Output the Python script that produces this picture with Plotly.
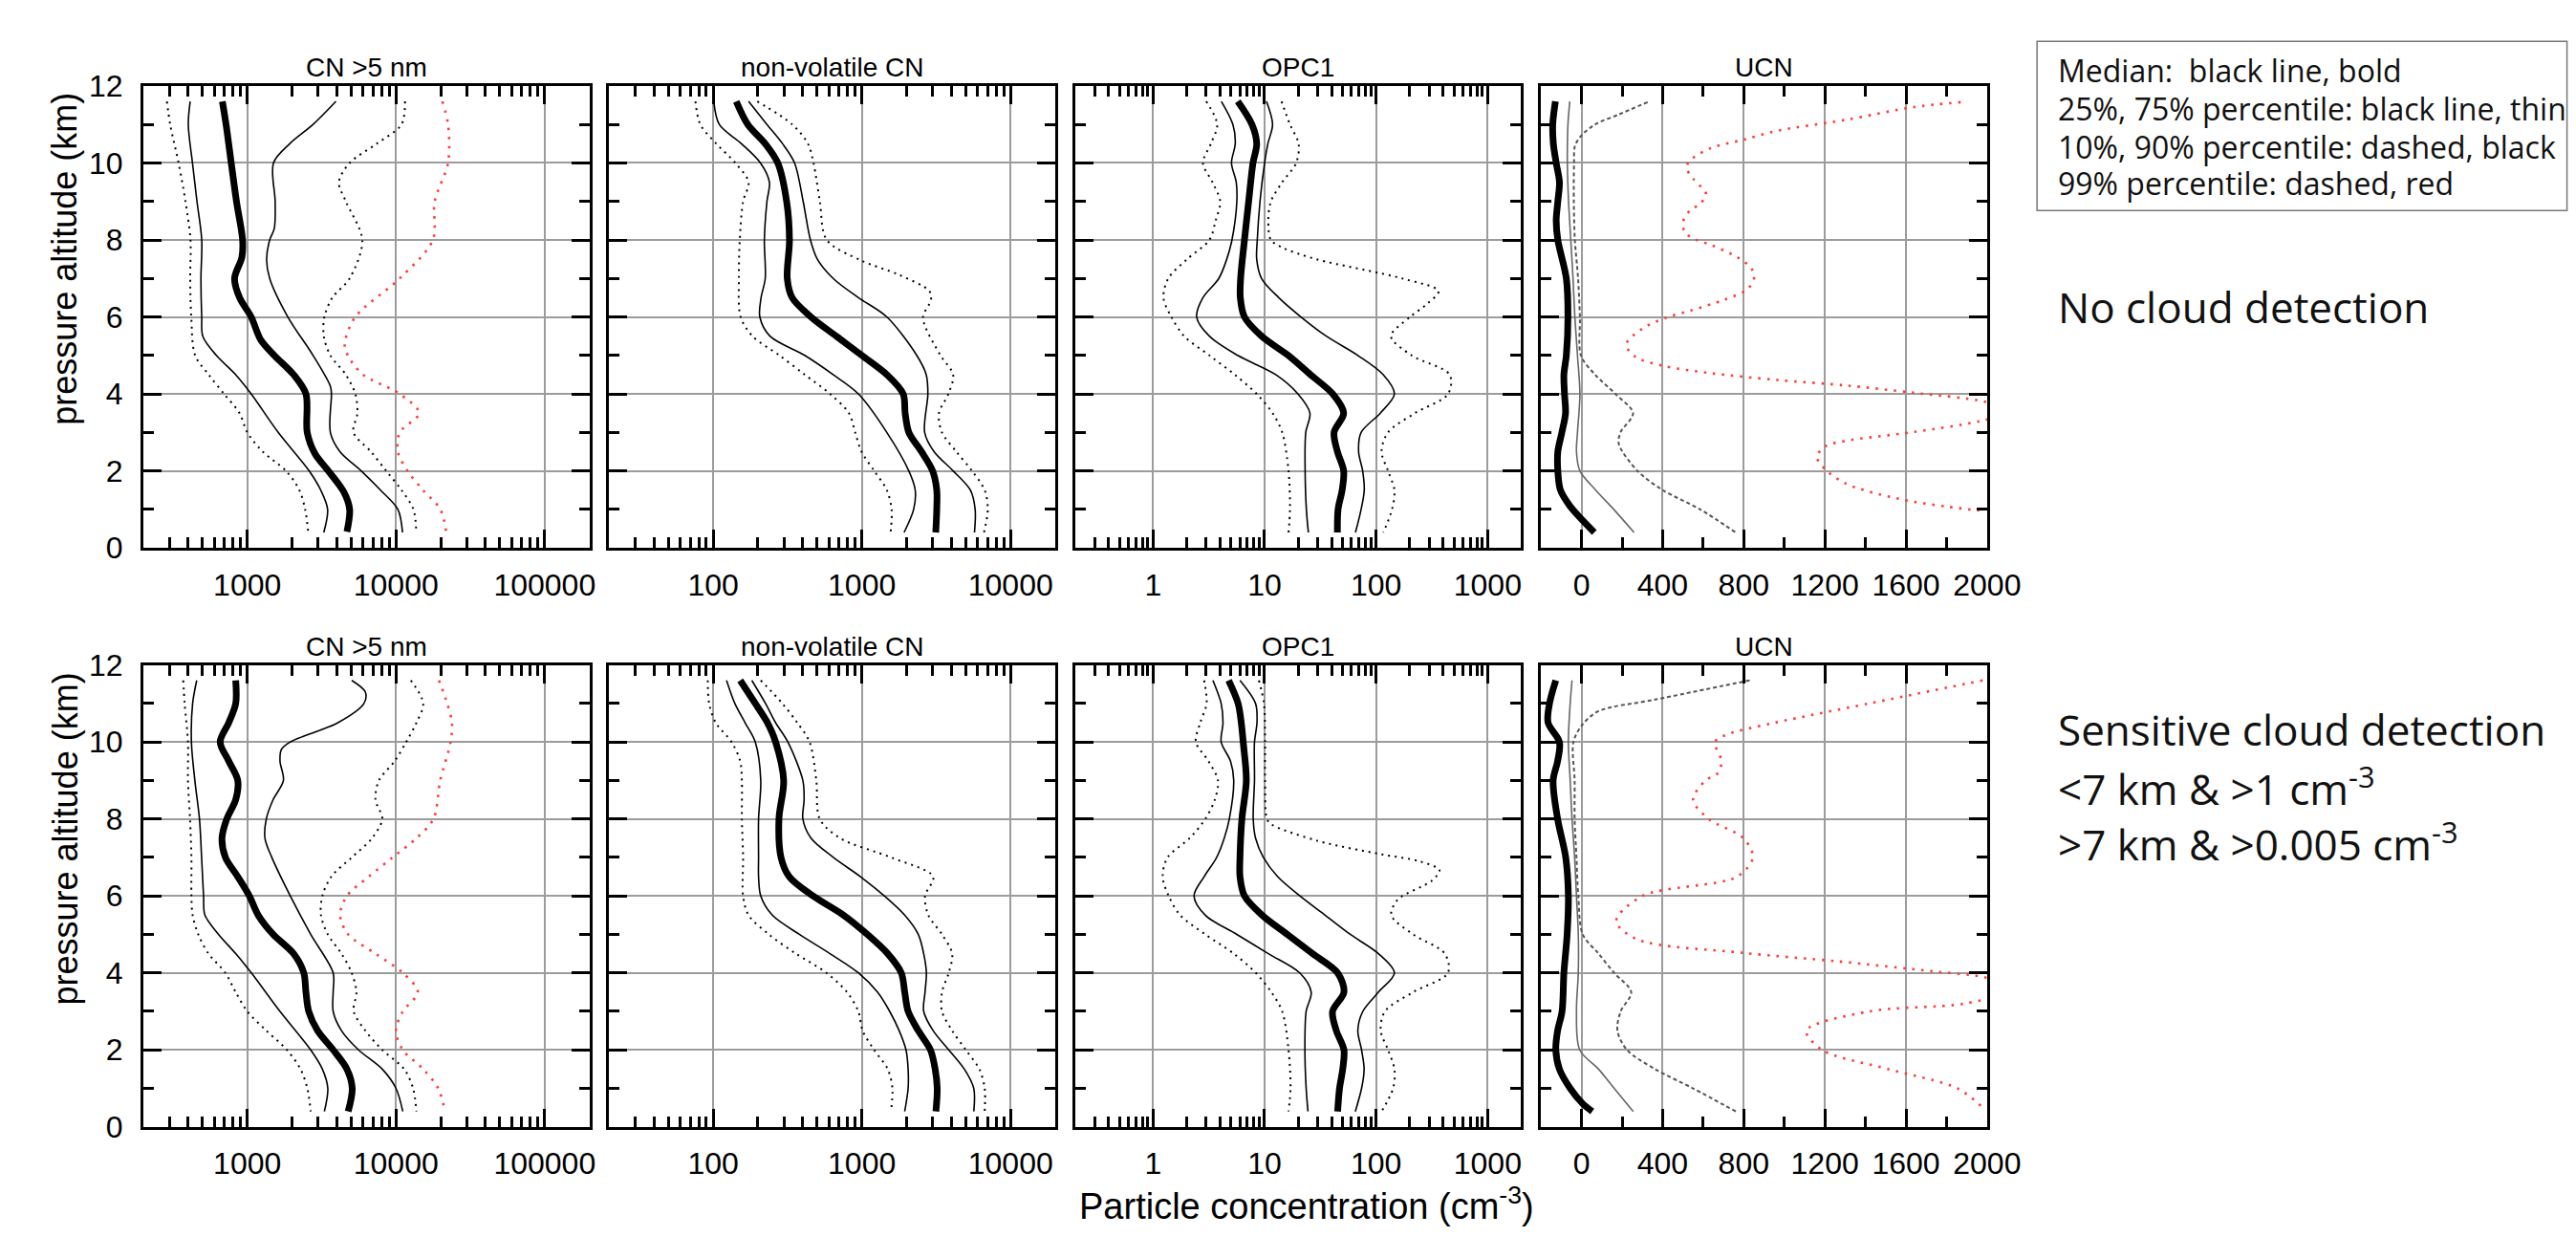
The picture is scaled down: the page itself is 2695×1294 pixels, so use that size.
import math
import plotly.graph_objects as go

W, H = 2695, 1294

# ---------------- data: (pressure altitude km, concentration cm-3) ----------------
# Top row: no cloud detection
t_cn5_p50 = [(11.6, 680), (11, 720), (10, 780), (9, 846), (8, 930), (7.55, 920), (7, 821), (6.5, 888), (6, 1062), (5.4, 1233), (5, 1520), (4.5, 2050), (4, 2480), (3, 2530), (2.45, 2850), (2, 3510), (1.45, 4460), (1, 4880), (0.42, 4680)]
t_cn5_p25 = [(11.6, 413), (11, 401), (10, 428), (9, 459), (8, 494), (7, 488), (6, 494), (5.5, 502), (5, 620), (4.5, 836), (4, 1062), (3, 1614), (2, 2606), (1.5, 3120), (1, 3470), (0.4, 3270)]
t_cn5_p75 = [(11.6, 3950), (11, 2770), (10.5, 1930), (10, 1500), (9, 1540), (8.3, 1520), (8, 1415), (7.5, 1349), (7, 1415), (6, 1874), (5, 2770), (4.2, 3620), (4, 3680), (3, 3620), (2.5, 4200), (2, 5840), (1.5, 7870), (1, 10300), (0.4, 11070)]
t_cn5_p10 = [(11.6, 288), (11, 303), (10, 345), (9, 384), (8, 415), (7, 413), (6, 420), (5, 446), (4.5, 550), (4, 698), (3.5, 887), (3, 1000), (2.5, 1270), (2, 1820), (1.5, 2240), (1, 2450), (0.4, 2570)]
t_cn5_p90 = [(11.6, 11500), (11, 10900), (10.5, 7420), (10, 4880), (9.5, 4130), (9, 4600), (8, 5940), (7, 4880), (6.5, 3730), (6, 3300), (5.5, 3270), (5, 3620), (4.5, 4600), (4, 5330), (3.5, 5500), (3, 5180), (2.5, 6780), (2, 8600), (1.5, 10900), (1, 13100), (0.4, 13700)]
t_cn5_p99 = [(11.6, 20500), (11, 22400), (10, 22400), (9, 18200), (8, 17700), (7, 10600), (6, 5330), (5.3, 4520), (5, 4740), (4.5, 6010), (4, 10600), (3.5, 14300), (3, 10600), (2.5, 10300), (2, 11970), (1.5, 15200), (1, 19900), (0.4, 21800)]

t_nv_p50 = [(11.6, 143), (11, 171), (10.5, 224), (10, 272), (9, 312), (8, 326), (7, 315), (6.5, 340), (6, 455), (5.5, 673), (5, 1000), (4.5, 1473), (4, 1897), (3.5, 1955), (3, 2070), (2.5, 2517), (2, 2990), (1.5, 3190), (1, 3190), (0.4, 3140)]
t_nv_p25 = [(11.6, 101), (11, 110), (10.5, 155), (10, 208), (9.5, 239), (9, 230), (8, 221), (7, 224), (6.5, 210), (6, 206), (5.5, 241), (5, 413), (4.5, 641), (4, 948), (3, 1472), (2, 2070), (1.5, 2285), (1, 2230), (0.4, 1923)]
t_nv_p75 = [(11.6, 173), (11, 230), (10.5, 293), (10, 353), (9, 403), (8, 451), (7.5, 502), (7, 641), (6.5, 948), (6, 1472), (5, 2340), (4.5, 2710), (4, 2780), (3, 2645), (2.5, 3060), (2, 4110), (1.5, 5370), (1, 5780), (0.4, 5720)]
t_nv_p10 = [(11.6, 76), (11, 82), (10.5, 105), (10, 141), (9.5, 173), (9, 159), (8, 151), (7, 149), (6, 153), (5.5, 184), (5, 279), (4.5, 413), (4, 611), (3.5, 819), (3, 902), (2.5, 995), (2, 1211), (1.5, 1472), (1, 1585), (0.4, 1560)]
t_nv_p90 = [(11.6, 198), (11, 340), (10.5, 434), (10, 473), (9, 522), (8, 581), (7.46, 1000), (7.09, 1790), (6.67, 2845), (6.44, 2917), (5.98, 2580), (5, 3380), (4.5, 4110), (4, 3820), (3.5, 3300), (3, 3460), (2.5, 4320), (2, 5510), (1.5, 6700), (1, 7030), (0.4, 6630)]

t_opc_p50 = [(11.6, 5.75), (11, 7.7), (10.5, 8.5), (10, 7.87), (9, 7.2), (8, 6.6), (7, 6.1), (6.5, 6.06), (6, 6.6), (5.5, 9.4), (5, 16.3), (4.5, 25.8), (4, 40.8), (3.5, 51.2), (3, 42), (2.5, 45), (2, 51.2), (1.5, 49.6), (1, 45.6), (0.4, 45)]
t_opc_p25 = [(11.6, 4.1), (11, 5.2), (10.5, 5.46), (10, 5.05), (9.5, 5.57), (9, 5.64), (8, 5.1), (7.5, 4.58), (7, 3.89), (6.5, 2.8), (6, 2.46), (5.5, 3.2), (5, 5.75), (4.5, 12.6), (4, 19.9), (3.5, 25.5), (3, 23.4), (2, 23.1), (1, 23.7), (0.4, 24.7)]
t_opc_p75 = [(11.6, 10.4), (11, 11.8), (10.5, 10.7), (10, 10.0), (9, 9.1), (8, 8.6), (7.5, 8.5), (7, 9.4), (6.5, 13.4), (6, 21.2), (5.5, 35.8), (5, 68.7), (4.5, 116), (4, 146), (3.5, 109), (3, 73.4), (2.5, 69.7), (2, 75.8), (1.5, 78.3), (1, 73.4), (0.4, 65.3)]
t_opc_p10 = [(11.6, 3.0), (11, 3.76), (10.5, 3.3), (10, 2.8), (9.5, 3.41), (9, 4.0), (8.5, 3.64), (8, 3.2), (7.5, 2.02), (7, 1.37), (6.5, 1.24), (6, 1.46), (5.5, 1.9), (5, 3.2), (4.5, 5.4), (4, 8.5), (3.5, 11.8), (3, 14.4), (2, 16.4), (1, 16.9), (0.4, 16.4)]
t_opc_p90 = [(11.6, 14.2), (11, 16.9), (10.5, 20.2), (10, 19.2), (9.5, 14.4), (9, 11.4), (8.5, 10.8), (8, 11.4), (7.8, 14.5), (7.5, 29), (7, 171), (6.67, 363), (6.35, 290), (6, 202), (5.5, 136), (5, 208), (4.5, 457), (4, 442), (3.5, 223), (3, 128), (2.5, 112), (2, 128), (1.5, 146), (1, 139), (0.4, 116)]

t_ucn_p50 = [(11.6, -129), (11, -142), (10.5, -139), (10, -125), (9.5, -109), (9, -117), (8.5, -125), (8, -117), (7, -75), (6, -67), (5, -75), (4.5, -87), (4, -84), (3.5, -79), (3, -97), (2.5, -117), (2, -117), (1.5, -104), (1.1, -59), (0.7, 8), (0.4, 63)]
t_ucn_p75 = [(11.6, -58), (11, -67), (10, -70), (9, -64), (8, -53), (7, -42), (6, -33), (5, -20), (4, -8), (3, -20), (2.5, -25), (2, -8), (1.5, 70), (1, 159), (0.4, 259)]
t_ucn_p90 = [(11.58, 326), (11.26, 184), (11, 67), (10.7, -3), (10.43, -33), (10, -37), (9, -38), (8, -33), (7, -17), (6, -8), (5, -3), (4.5, 67), (4, 167), (3.5, 254), (3, 192), (2.7, 184), (2, 276), (1.5, 401), (1, 585), (0.4, 760)]
t_ucn_p99 = [(11.58, 1870), (11.45, 1637), (11.12, 1303), (10.84, 969), (10.61, 802), (10.38, 635), (10.06, 534), (9.87, 518), (9.59, 551), (9.31, 601), (9.18, 615), (8.94, 585), (8.76, 534), (8.48, 501), (8.2, 509), (8.02, 559), (7.88, 635), (7.55, 768), (7.28, 835), (7.04, 852), (6.72, 818), (6.44, 701), (6.16, 534), (5.98, 418), (5.7, 301), (5.28, 220), (4.96, 267), (4.73, 401), (4.54, 635), (4.36, 969), (4.22, 1303), (4.03, 1637), (3.8, 1987), (3.55, 2120), (3.29, 1962), (3.01, 1637), (2.78, 1303), (2.64, 1202), (2.36, 1161), (2.04, 1202), (1.67, 1303), (1.39, 1470), (1.2, 1637), (1.07, 1804), (0.97, 1962)]

# Bottom row: sensitive cloud detection
b_cn5_p50 = [(11.6, 836), (11, 836), (10.5, 751), (10, 657), (9.5, 751), (9, 863), (8.5, 836), (8, 728), (7.5, 676), (7, 713), (6.5, 863), (6, 1032), (5.5, 1184), (5, 1492), (4.5, 2050), (4, 2400), (3.5, 2480), (3, 2590), (2.5, 2970), (2, 3780), (1.5, 4680), (1, 5080), (0.4, 4770)]
b_cn5_p25 = [(11.6, 457), (11, 429), (10, 421), (9, 444), (8, 477), (7, 493), (6, 508), (5.5, 519), (5, 641), (4.5, 836), (4, 1066), (3, 1660), (2, 2670), (1.5, 3200), (1, 3480), (0.4, 3300)]
b_cn5_p75 = [(11.6, 5040), (11.3, 6220), (11, 6090), (10.5, 4070), (10, 1945), (9.8, 1695), (9.5, 1660), (9, 1750), (8.5, 1492), (8, 1343), (7.5, 1315), (7, 1462), (6, 1945), (5, 2670), (4, 3780), (3.5, 3780), (3, 3780), (2.5, 4300), (2, 5600), (1.5, 8090), (1, 10000), (0.4, 11120)]
b_cn5_p10 = [(11.6, 371), (11, 379), (10, 399), (9, 399), (8, 412), (7, 421), (6, 421), (5.5, 429), (5, 468), (4.5, 548), (4, 713), (3.5, 836), (3, 1000), (2.5, 1343), (2, 1845), (1.5, 2280), (1, 2535), (0.4, 2670)]
b_cn5_p90 = [(11.6, 12600), (11, 15250), (10.5, 13730), (10, 11720), (9.5, 9800), (9, 7680), (8.5, 7280), (8, 8090), (7.5, 6900), (7, 5040), (6.5, 3670), (6, 3200), (5.5, 3130), (5, 3480), (4.5, 4300), (4, 5040), (3.5, 5420), (3, 5200), (2.5, 6220), (2, 8090), (1.5, 11350), (1, 13030), (0.4, 13730)]
b_cn5_p99 = [(11.6, 19450), (11, 22100), (10.5, 23800), (10, 23300), (9, 19850), (8, 17870), (7.5, 13730), (7, 9490), (6.5, 6560), (6, 4680), (5.5, 4210), (5, 4770), (4.5, 7280), (4, 11120), (3.5, 14030), (3, 11120), (2.5, 10000), (2, 11120), (1.5, 15250), (1, 19230), (0.4, 21380)]

b_nv_p50 = [(11.6, 152), (11, 192), (10.5, 232), (10, 263), (9, 298), (8, 277), (7, 286), (6.5, 325), (6, 469), (5.5, 753), (5, 1088), (4.5, 1493), (4, 1842), (3.5, 1942), (3, 2047), (2.5, 2395), (2, 2893), (1.5, 3111), (1, 3213), (0.4, 3148)]
b_nv_p25 = [(11.6, 123), (11, 140), (10.5, 164), (10, 192), (9, 209), (8, 202), (7, 202), (6.5, 202), (6, 209), (5.5, 250), (5, 380), (4.5, 610), (4, 948), (3.5, 1274), (3, 1539), (2.5, 1782), (2, 1981), (1.5, 2047), (1, 2047), (0.4, 1942)]
b_nv_p75 = [(11.6, 182), (11, 225), (10.5, 263), (10, 318), (9, 401), (8.5, 409), (8, 401), (7.5, 455), (7, 643), (6.5, 979), (6, 1416), (5.5, 1942), (5, 2395), (4.5, 2605), (4, 2717), (3.5, 2660), (3, 2605), (2.5, 3016), (2, 3840), (1.5, 4890), (1, 5660), (0.4, 5660)]
b_nv_p10 = [(11.6, 92), (11, 94), (10.5, 104), (10, 133), (9.5, 152), (9, 156), (8, 156), (7, 159), (6, 159), (5.5, 173), (5, 237), (4.5, 360), (4, 579), (3.5, 794), (3, 948), (2.5, 1011), (2, 1209), (1.5, 1493), (1, 1605), (0.4, 1570)]
b_nv_p90 = [(11.6, 209), (11, 292), (10.5, 368), (10, 445), (9, 494), (8, 521), (7.5, 714), (7, 1570), (6.5, 3016), (6, 2660), (5.5, 2800), (5, 3460), (4.5, 4050), (4, 3840), (3.5, 3460), (3, 3460), (2.5, 4050), (2, 5000), (1.5, 6170), (1, 6700), (0.4, 6700)]

b_opc_p50 = [(11.6, 4.76), (11, 5.79), (10.5, 6.18), (10, 6.43), (9, 6.86), (8, 6.26), (7, 6.02), (6.5, 6.02), (6, 6.6), (5.5, 9.5), (5, 16), (4.5, 26.9), (4, 45.2), (3.5, 51.5), (3, 40.7), (2.5, 44), (2, 51.5), (1.5, 50.2), (1, 47), (0.4, 45.2)]
b_opc_p25 = [(11.6, 3.44), (11, 4.08), (10.5, 4.24), (10, 4.08), (9.5, 4.95), (9, 5.29), (8, 4.83), (7.5, 4.35), (7, 3.72), (6.5, 2.87), (6, 2.33), (5.5, 2.94), (5, 5.64), (4.5, 10.8), (4, 20.7), (3.5, 26.2), (3, 23.6), (2, 23), (1, 23.6), (0.4, 24.5)]
b_opc_p75 = [(11.6, 6.02), (11, 8.3), (10.5, 8.55), (10, 8.12), (9, 8.12), (8, 7.91), (7.5, 8.3), (7, 9.75), (6.5, 13.1), (6, 20.7), (5.5, 34.9), (5, 58.7), (4.5, 105), (4, 146), (3.5, 105), (3, 76), (2.5, 68.6), (2, 74.1), (1.5, 78.1), (1, 74.1), (0.4, 65.1)]
b_opc_p10 = [(11.6, 2.87), (11, 3.02), (10.5, 2.65), (10, 2.42), (9.5, 3.14), (9, 3.82), (8.5, 3.58), (8, 2.94), (7.5, 2.13), (7, 1.35), (6.5, 1.22), (6, 1.38), (5.5, 1.75), (5, 2.94), (4.5, 5.29), (4, 8.34), (3.5, 11.5), (3, 14.4), (2, 16.4), (1, 17.1), (0.4, 16.4)]
b_opc_p90 = [(11.6, 8.9), (11, 9.87), (10, 10.1), (9, 10.1), (8, 10.5), (7.86, 11.5), (7.43, 30), (7.08, 112), (6.9, 245), (6.67, 370), (6.4, 318), (5.9, 156), (5.5, 137), (5, 215), (4.5, 413), (4, 441), (3.5, 215), (3, 120), (2.5, 110), (2, 128), (1.5, 146), (1, 142), (0.4, 112)]

b_ucn_p50 = [(11.6, -127), (11, -158), (10.5, -165), (10, -109), (9.5, -118), (9, -140), (8, -118), (7, -78), (6, -65), (5, -71), (4, -87), (3, -96), (2.5, -118), (2, -127), (1.5, -109), (1, -56), (0.6, 6), (0.4, 53)]
b_ucn_p75 = [(11.6, -47), (11, -56), (10, -65), (9, -56), (8, -47), (7, -34), (6, -25), (5, -16), (4, -16), (3, -25), (2, -9), (1.5, 84), (1, 161), (0.4, 255)]
b_ucn_p90 = [(11.6, 829), (11.1, 363), (10.8, 84), (10.46, 6), (10, -40), (9, -34), (8, -34), (7, -25), (6, -16), (5, 6), (4.5, 84), (4, 161), (3.5, 245), (3, 193), (2.5, 177), (2, 224), (1.5, 363), (1, 550), (0.4, 761)]
b_ucn_p99 = [(11.6, 1978), (11, 1419), (10.5, 954), (10.2, 721), (10, 658), (9.5, 690), (9.2, 674), (9, 612), (8.5, 550), (8, 627), (7.5, 798), (7, 845), (6.5, 767), (6, 301), (5.35, 171), (4.88, 270), (4.52, 798), (4.3, 1264), (4.04, 1730), (3.87, 1997), (3.55, 2120), (3.2, 1885), (3, 1419), (2.5, 1109), (2, 1186), (1.5, 1513), (1, 1854), (0.5, 1978)]

panel_titles = ["CN >5 nm", "non-volatile CN", "OPC1", "UCN"]
x_ranges = [(200, 200000), (20, 20000), (0.2, 2000), (-200, 2000)]
x_types = ["log", "log", "log", "linear"]
x_ticklabels = [["1000", "10000", "100000"], ["100", "1000", "10000"], ["1", "10", "100", "1000"],
                ["0", "400", "800", "1200", "1600", "2000"]]
y_ticklabels = ["0", "2", "4", "6", "8", "10", "12"]

rows = [
    [
        {"p10": t_cn5_p10, "p25": t_cn5_p25, "p50": t_cn5_p50, "p75": t_cn5_p75, "p90": t_cn5_p90, "p99": t_cn5_p99},
        {"p10": t_nv_p10, "p25": t_nv_p25, "p50": t_nv_p50, "p75": t_nv_p75, "p90": t_nv_p90},
        {"p10": t_opc_p10, "p25": t_opc_p25, "p50": t_opc_p50, "p75": t_opc_p75, "p90": t_opc_p90},
        {"p75": t_ucn_p75, "p90": t_ucn_p90, "p99": t_ucn_p99, "p50": t_ucn_p50},
    ],
    [
        {"p10": b_cn5_p10, "p25": b_cn5_p25, "p50": b_cn5_p50, "p75": b_cn5_p75, "p90": b_cn5_p90, "p99": b_cn5_p99},
        {"p10": b_nv_p10, "p25": b_nv_p25, "p50": b_nv_p50, "p75": b_nv_p75, "p90": b_nv_p90},
        {"p10": b_opc_p10, "p25": b_opc_p25, "p50": b_opc_p50, "p75": b_opc_p75, "p90": b_opc_p90},
        {"p75": b_ucn_p75, "p90": b_ucn_p90, "p99": b_ucn_p99, "p50": b_ucn_p50},
    ],
]

# ---------------- layout geometry (pixels) ----------------
col_px = [(152, 625), (646, 1119), (1140, 1613), (1634, 2107)]
row_px = [(74, 571), (697, 1194)]  # top, bottom (from top of image)

FONT = "Liberation Sans, Arial, sans-serif"
RFONT = "Open Sans, Noto Sans, sans-serif"


def styles(key, ucn):
    if key == "p50":
        return dict(color="black", width=7)
    if key in ("p25", "p75"):
        return dict(color="#666666" if ucn else "black", width=1.6)
    if key in ("p10", "p90"):
        if ucn:
            return dict(color="#555555", width=2, dash="4px,3px")
        return dict(color="black", width=2, dash="2px,5px")
    return dict(color="#ff3b3b", width=2.6, dash="2.5px,7px")


def log_minor(lo, hi):
    out = []
    for d in range(math.floor(math.log10(lo)), math.ceil(math.log10(hi)) + 1):
        for k in range(2, 10):
            v = k * 10.0 ** d
            if lo <= v <= hi:
                out.append(v)
    return out


fig = go.Figure()
layout = {}
idx = 0
for r in range(2):
    for c in range(4):
        idx += 1
        xa = "x" if idx == 1 else f"x{idx}"
        ya = "y" if idx == 1 else f"y{idx}"
        ucn = c == 3
        for key in ["p10", "p90", "p99", "p25", "p75", "p50"]:
            if key not in rows[r][c]:
                continue
            pts = rows[r][c][key]
            fig.add_trace(go.Scatter(
                x=[p[1] for p in pts], y=[p[0] for p in pts], mode="lines",
                line=dict(shape="spline", smoothing=0.9, **styles(key, ucn)),
                xaxis=xa, yaxis=ya, showlegend=False, hoverinfo="skip"))

        x0, x1 = col_px[c]
        t0, t1 = row_px[r]
        lo, hi = x_ranges[c]
        common = dict(
            showline=True, linecolor="black", linewidth=3, mirror="ticks",
            ticks="inside", ticklen=19, tickwidth=3, tickcolor="black",
            showgrid=True, gridcolor="#9c9c9c", gridwidth=1.5, zeroline=False,
            tickfont=dict(family=FONT, size=32, color="black"),
        )
        mstyle = dict(ticks="inside", ticklen=11, tickwidth=3, tickcolor="black", showgrid=False)
        labels = x_ticklabels[c]
        if x_types[c] == "log":
            xdict = dict(type="log", range=[math.log10(lo), math.log10(hi)],
                         tickmode="array", tickvals=[float(s) for s in labels], ticktext=labels,
                         minor=dict(tickmode="array", tickvals=log_minor(lo, hi), **mstyle))
        else:
            xdict = dict(type="linear", range=[lo, hi],
                         tickmode="array", tickvals=[float(s) for s in labels], ticktext=labels,
                         minor=dict(tickmode="array", tickvals=[-200, 200, 600, 1000, 1400, 1800], **mstyle))
        layout["xaxis" if idx == 1 else f"xaxis{idx}"] = dict(
            domain=[x0 / W, x1 / W], anchor=ya, ticklabelstandoff=8, **xdict, **common)
        layout["yaxis" if idx == 1 else f"yaxis{idx}"] = dict(
            domain=[(H - t1) / H, (H - t0) / H], anchor=xa, range=[0, 12],
            tickmode="array", tickvals=[float(s) for s in y_ticklabels], ticktext=y_ticklabels,
            showticklabels=(c == 0), ticklabelstandoff=12,
            minor=dict(tickmode="array", tickvals=[1, 3, 5, 7, 9, 11], **mstyle),
            **common)

annotations = []
for r in range(2):
    for c in range(4):
        x0, x1 = col_px[c]
        annotations.append(dict(
            text=panel_titles[c], xref="paper", yref="paper",
            x=(x0 + x1) / 2 / W, y=(H - row_px[r][0]) / H, xanchor="center", yanchor="bottom", yshift=2,
            showarrow=False, font=dict(family=FONT, size=28, color="black")))

for yc in (260, 884):
    annotations.append(dict(
        text="pressure altitude (km)", xref="paper", yref="paper", x=69 / W, y=(H - yc) / H,
        xanchor="center", yanchor="middle", textangle=-90, showarrow=False,
        font=dict(family=FONT, size=36, color="black")))

annotations.append(dict(
    text="Particle concentration (cm<sup>-3</sup>)", xref="paper", yref="paper",
    x=1386 / W, y=(H - 1276) / H, xanchor="center", yanchor="middle", showarrow=False,
    font=dict(family=FONT, size=38, color="black")))

legend_lines = ["Median:  black line, bold",
                "25%, 75% percentile: black line, thin",
                "10%, 90% percentile: dashed, black",
                "99% percentile: dashed, red"]
for txt, yc in zip(legend_lines, [57, 98, 139, 178]):
    annotations.append(dict(
        text=txt, xref="paper", yref="paper", x=2180 / W, y=(H - yc) / H,
        xanchor="left", yanchor="middle", showarrow=False,
        font=dict(family=RFONT, size=32, color="#111111")))

annotations.append(dict(
    text="No cloud detection", xref="paper", yref="paper", x=2180 / W, y=(H - 312) / H,
    xanchor="left", yanchor="middle", showarrow=False,
    font=dict(family=RFONT, size=44, color="#111111")))

for txt, yc in zip(["Sensitive cloud detection", "&lt;7 km &amp; &gt;1 cm<sup>-3</sup>",
                    "&gt;7 km &amp; &gt;0.005 cm<sup>-3</sup>"], [766, 828, 888]):
    annotations.append(dict(
        text=txt, xref="paper", yref="paper", x=2180 / W, y=(H - yc) / H,
        xanchor="left", yanchor="middle", showarrow=False,
        font=dict(family=RFONT, size=44, color="#111111")))

shapes = [dict(type="rect", xref="paper", yref="paper", x0=2160 / W, x1=1.01,
               y0=(H - 208) / H, y1=(H - 26) / H, line=dict(color="#777777", width=1.5))]

fig.update_layout(
    width=W, height=H, margin=dict(l=0, r=0, t=0, b=0),
    paper_bgcolor="white", plot_bgcolor="white",
    annotations=annotations, shapes=shapes, **layout)

fig.write_html("out.html", config={"displayModeBar": False},
               post_script="document.body.style.margin='0';")
